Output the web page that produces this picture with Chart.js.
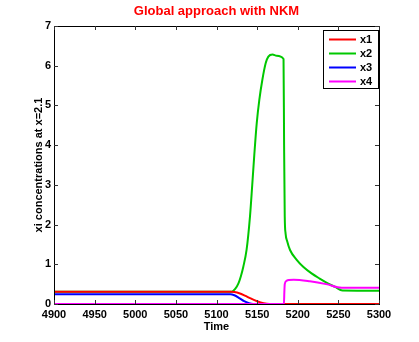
<!DOCTYPE html>
<html><head><meta charset="utf-8">
<script src="https://cdn.jsdelivr.net/npm/chart.js@4"></script>
<style>html,body{margin:0;padding:0;background:#fff;}#wrap{width:419px;height:342px;}</style>
</head><body><div id="wrap"><canvas id="c" width="419" height="342"></canvas></div>
<script>
// ---- data ----
const titleText = "Global approach with NKM";
const xLabel = "Time";
const yLabel = "xi concentrations at x=2.1";
const seriesNames = ["x1", "x2", "x3", "x4"];
const xTicks = [4900, 4950, 5000, 5050, 5100, 5150, 5200, 5250, 5300];
const yTicks = [0, 1, 2, 3, 4, 5, 6, 7];

const t1 = [4900, 5118, 5122, 5128, 5135, 5142, 5150, 5158, 5165, 5300];
const x1 = [0.31, 0.31, 0.30, 0.27, 0.21, 0.14, 0.07, 0.02, 0.0, 0.0];

const t2 = [4900, 5118.7, 5123, 5127, 5130, 5133, 5137, 5141.2, 5144, 5146.5, 5149.5, 5152.7, 5156.4, 5160.5, 5163.8, 5169, 5174, 5182.5, 5183.2, 5184, 5185, 5187, 5190.5, 5198.7, 5207, 5217, 5227, 5237, 5246, 5255, 5300];
const x2 = [0.31, 0.31, 0.38, 0.52, 0.7, 0.94, 1.36, 2.2, 3.0, 3.75, 4.55, 5.14, 5.64, 6.06, 6.23, 6.28, 6.25, 6.17, 4.0, 2.2, 1.78, 1.58, 1.36, 1.11, 0.93, 0.77, 0.64, 0.52, 0.43, 0.34, 0.335];

const t3 = [4900, 5117, 5122, 5128, 5134, 5140, 5145, 5300];
const x3 = [0.245, 0.245, 0.22, 0.15, 0.07, 0.02, 0.0, 0.0];

const t4 = [4900, 5183, 5183.5, 5184, 5186, 5189, 5195, 5215, 5235, 5254, 5300];
const x4 = [0.0, 0.0, 0.3, 0.5, 0.58, 0.605, 0.61, 0.57, 0.5, 0.41, 0.41];

const colors = ["#ff0000", "#00c800", "#0000ff", "#ff00ff"];

function pts(t, v) { return t.map((x, i) => ({x: x, y: v[i]})); }
const seriesT = [t1, t2, t3, t4];
const seriesV = [x1, x2, x3, x4];
const drawOrder = [2, 4, 3, 1]; // green drawn first (beneath red), magenta on top

const FONT = "'Liberation Sans', Arial, Helvetica, sans-serif";

const framePlugin = {
  id: 'frame',
  afterDatasetsDraw(chart) {
    const ctx = chart.ctx, a = chart.chartArea;
    const xs = chart.scales.x, ys = chart.scales.y;
    ctx.save();
    ctx.strokeStyle = '#000';
    ctx.lineWidth = 1;
    ctx.strokeRect(Math.round(a.left) + 0.5, Math.round(a.top) + 0.5, Math.round(a.right - a.left), Math.round(a.bottom - a.top));
    ctx.strokeStyle = '#333';
    const L = 4;
    ctx.beginPath();
    xTicks.forEach(v => {
      const px = Math.round(xs.getPixelForValue(v)) + 0.5;
      ctx.moveTo(px, a.bottom); ctx.lineTo(px, a.bottom - L);
      ctx.moveTo(px, a.top); ctx.lineTo(px, a.top + L);
    });
    yTicks.forEach(v => {
      const py = Math.round(ys.getPixelForValue(v)) + 0.5;
      ctx.moveTo(a.left, py); ctx.lineTo(a.left + L, py);
      ctx.moveTo(a.right, py); ctx.lineTo(a.right - L, py);
    });
    ctx.stroke();
    // legend
    const bx = a.right - 56, by = a.top + 4, bw = 55, bh = 58;
    ctx.fillStyle = '#fff';
    ctx.fillRect(bx, by, bw, bh);
    ctx.strokeStyle = '#000';
    ctx.strokeRect(Math.round(bx) + 0.5, Math.round(by) + 0.5, bw, bh);
    ctx.font = "bold 11px " + FONT;
    ctx.textBaseline = 'middle';
    ctx.textAlign = 'left';
    seriesNames.forEach((n, i) => {
      const y = by + 9.5 + i * 14;
      ctx.strokeStyle = colors[i];
      ctx.lineWidth = 2;
      ctx.beginPath();
      ctx.moveTo(bx + 6, y); ctx.lineTo(bx + 33, y);
      ctx.stroke();
      ctx.fillStyle = '#000';
      ctx.fillText(n, bx + 37, y + 0.5);
    });
    ctx.restore();
  }
};

new Chart(document.getElementById('c'), {
  type: 'line',
  data: {
    datasets: seriesNames.map((n, i) => ({
      label: n,
      data: pts(seriesT[i], seriesV[i]),
      borderColor: colors[i],
      backgroundColor: colors[i],
      borderWidth: 2,
      pointRadius: 0,
      fill: false,
      cubicInterpolationMode: 'monotone',
      order: drawOrder[i]
    }))
  },
  options: {
    responsive: false,
    animation: false,
    events: [],
    layout: { padding: { left: 0, right: 40, top: 0, bottom: 0 } },
    plugins: {
      legend: { display: false },
      tooltip: { enabled: false },
      title: {
        display: true, text: titleText, color: '#ff0000', fullSize: false,
        font: { family: FONT, size: 13, weight: 'bold' },
        padding: { top: 4, bottom: 6.4 }
      }
    },
    scales: {
      x: {
        type: 'linear', min: 4900, max: 5300,
        afterBuildTicks(s) { s.ticks = xTicks.map(v => ({value: v})); },
        afterFit(s) { s.height = 38; },
        grid: { display: false, drawTicks: false },
        border: { display: false },
        ticks: { color: '#000', padding: 4, maxRotation: 0, autoSkip: false, font: { family: FONT, size: 11, weight: 'bold' }, callback: v => String(v) },
        title: { display: true, text: xLabel, color: '#000', font: { family: FONT, size: 11, weight: 'bold' }, padding: { top: 0, bottom: 8.5 } }
      },
      y: {
        type: 'linear', min: 0, max: 7,
        afterBuildTicks(s) { s.ticks = yTicks.map(v => ({value: v})); },
        afterFit(s) { s.width = 54; },
        grid: { display: false, drawTicks: false },
        border: { display: false },
        ticks: { color: '#000', padding: 3, font: { family: FONT, size: 11, weight: 'bold' }, callback: v => String(v) },
        title: { display: true, text: yLabel, color: '#000', font: { family: FONT, size: 11, weight: 'bold' }, padding: { top: 32, bottom: 0 } }
      }
    }
  },
  plugins: [framePlugin]
});
</script>
</body></html>
